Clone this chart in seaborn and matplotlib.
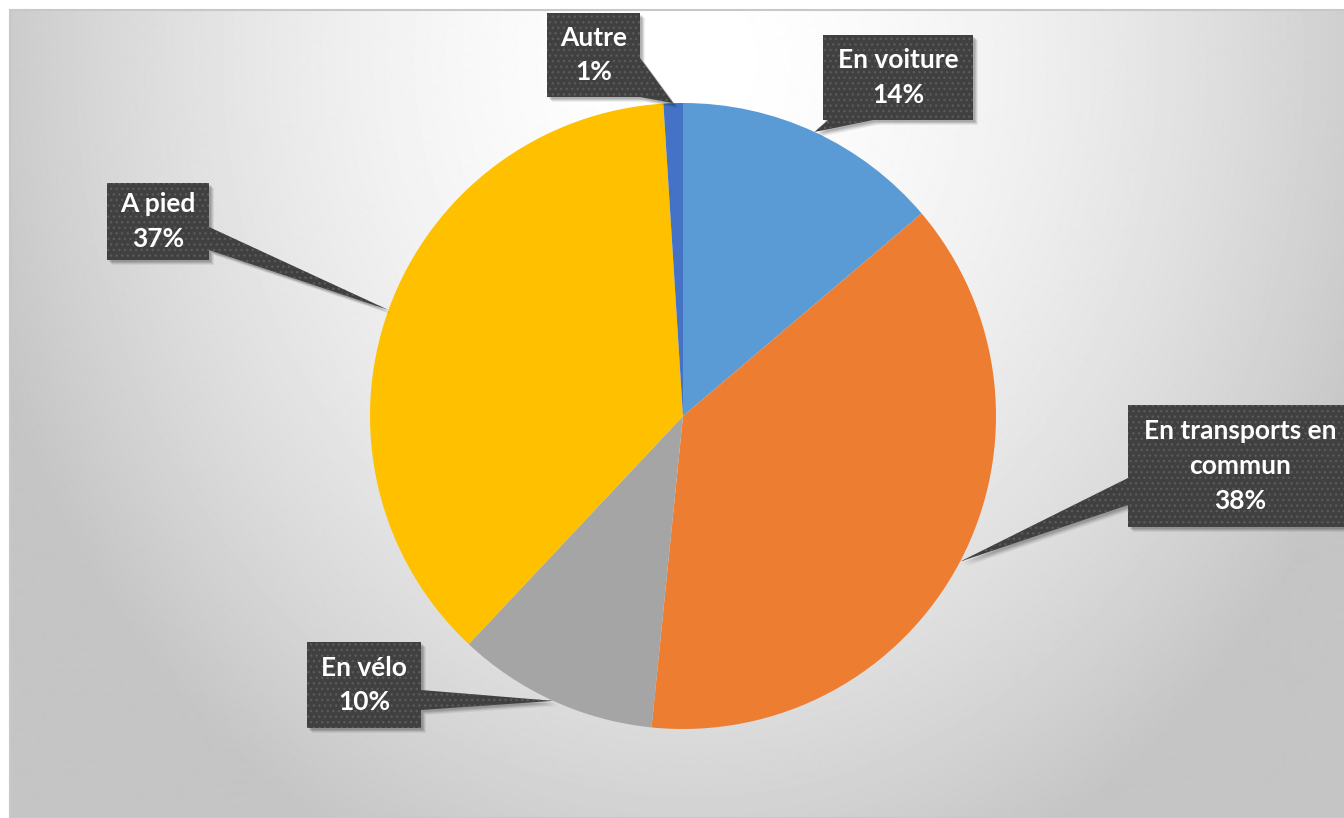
import numpy as np
import matplotlib.pyplot as plt
from matplotlib.patches import Polygon, Rectangle
import seaborn as sns

# data
categories = ["En voiture", "En transports en\ncommun", "En vélo", "A pied", "Autre"]
shares = [13.8, 37.8, 10.4, 37.0, 1.0]
pct_labels = ["14%", "38%", "10%", "37%", "1%"]
slice_colors = ["#5B9BD5", "#ED7D31", "#A5A5A5", "#FFC000", "#4472C4"]

W, H = 1344, 818

# callout boxes in pixels from top-left: (x0, y0, x1, y1), side of the pointer, pointer base span
callouts = [
    ((823, 35, 973, 120), "bottom", (828, 873)),
    ((1128, 405, 1352, 527), "left", (478, 505)),
    ((307, 642, 421, 728), "right", (690, 710)),
    ((107, 183, 209, 260), "right", (227, 250)),
    ((547, 13, 640, 97), "right", (58, 97)),
]

sns.set_theme(style="white")
plt.rcParams['font.family'] = ['Lato', 'DejaVu Sans']

fig = plt.figure(figsize=(W / 100, H / 100), dpi=100)
fig.patch.set_facecolor("white")
ax = fig.add_axes([0, 0, 1, 1])


def fy(y):
    # top-based pixel -> axes y
    return H - y


# radial grey background of the chart area
xs = np.arange(10, W + 1)
ys = np.arange(10, H + 1)
gx, gy = np.meshgrid(xs, ys)
d = np.sqrt((gx - 690) ** 2 + ((gy - 60) / 1.2) ** 2)
val = 1 - 0.21 * np.clip(d / 700, 0, 1.05) ** 1.7
ax.imshow(val, cmap="gray", vmin=0, vmax=1, extent=[10, W, fy(H), fy(10)],
          origin="upper", zorder=0, interpolation="bilinear")
ax.add_patch(Rectangle((10, 0), W, fy(10), fill=False, edgecolor="#c8c8c8",
                       linewidth=1.5, zorder=1))

cx, cy, r = 683, fy(416), 313
wedges, _ = ax.pie(shares, colors=slice_colors, startangle=90, counterclock=False,
                   center=(cx, cy), radius=r, wedgeprops=dict(linewidth=0))
for w in wedges:
    w.set_zorder(2)

for w, name, pct, (box, side, base) in zip(wedges, categories, pct_labels, callouts):
    mid = np.deg2rad((w.theta1 + w.theta2) / 2)
    tip = (cx + r * np.cos(mid), cy + r * np.sin(mid))
    x0, y0, x1, y1 = box
    b1, b2 = base
    pts = [(x0, fy(y0)), (x1, fy(y0))]
    if side == "right":
        pts += [(x1, fy(b1)), tip, (x1, fy(b2))]
    pts += [(x1, fy(y1))]
    if side == "bottom":
        pts += [(b2, fy(y1)), tip, (b1, fy(y1))]
    pts += [(x0, fy(y1))]
    if side == "left":
        pts += [(x0, fy(b2)), tip, (x0, fy(b1))]
    pts = np.array(pts, dtype=float)
    # soft drop shadow: a few offset layers
    for off, a in [(5, 0.06), (4, 0.08), (3, 0.10), (2, 0.10)]:
        ax.add_patch(Polygon(pts + [off, -off], closed=True, facecolor="black",
                             edgecolor="none", alpha=a, zorder=3))
    ax.add_patch(Polygon(pts, closed=True, facecolor="#404040", edgecolor="#5a5a5a",
                         linewidth=0, hatch="...", zorder=3.5))
    ax.text((x0 + x1) / 2, fy((y0 + y1) / 2), f"{name}\n{pct}", ha="center", va="center",
            color="white", fontsize=19, fontweight="bold", linespacing=1.55, zorder=4)

ax.set_xlim(0, W)
ax.set_ylim(0, H)
ax.set_aspect("auto")
ax.axis("off")

fig.savefig("out.png", dpi=100)
